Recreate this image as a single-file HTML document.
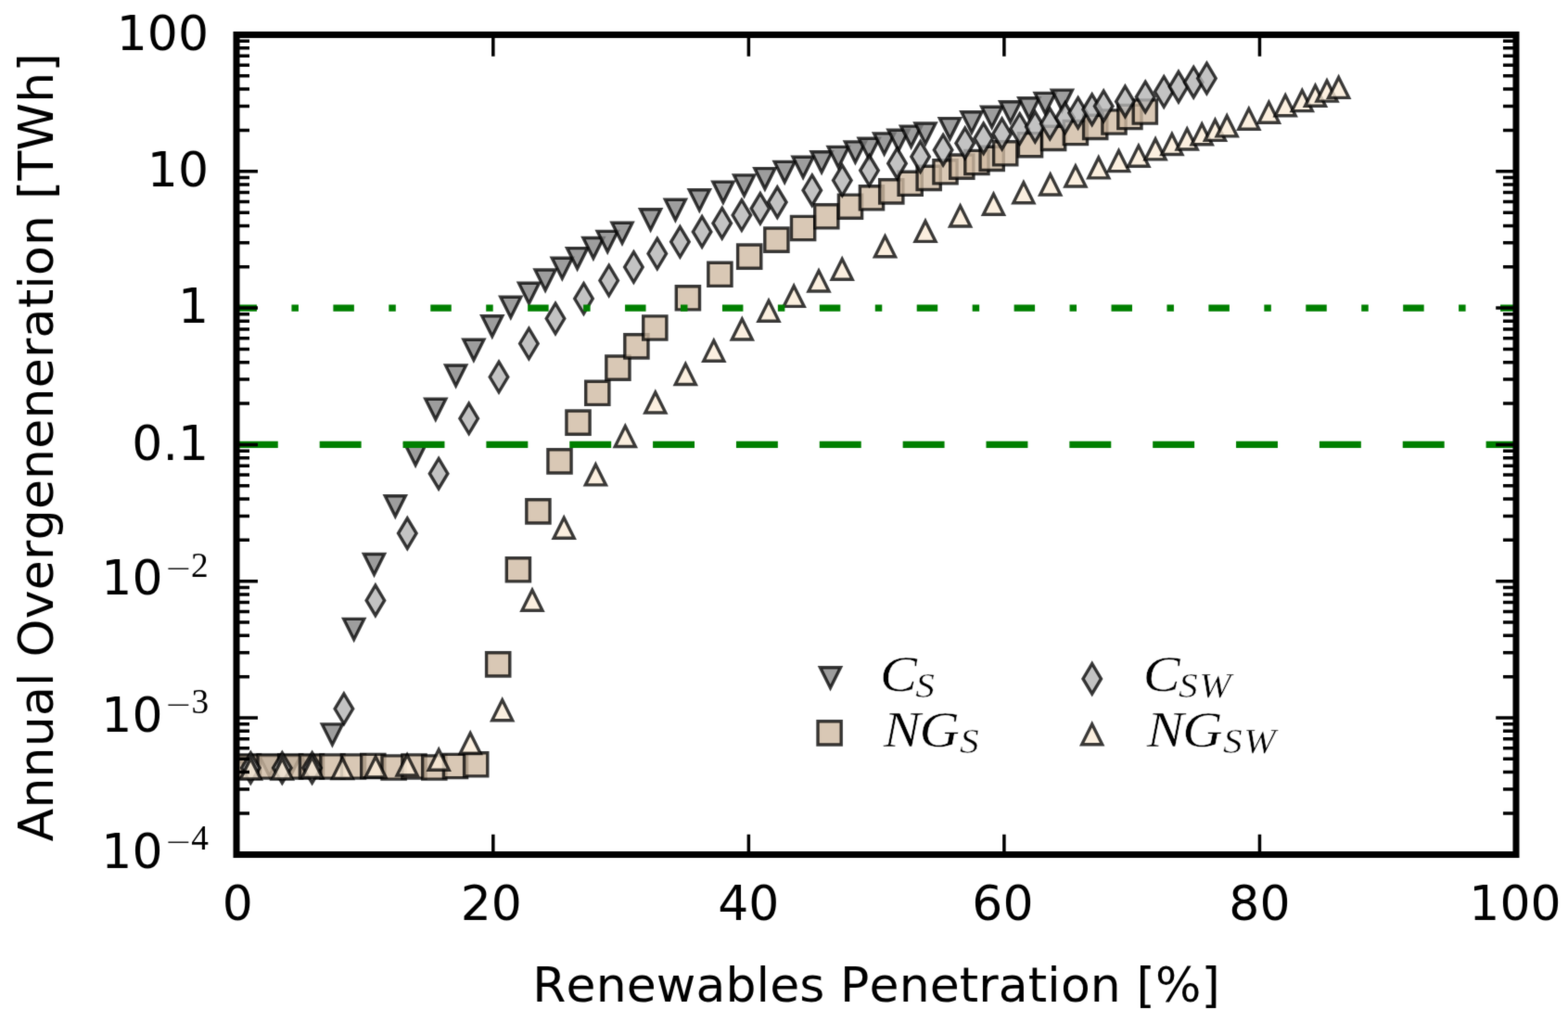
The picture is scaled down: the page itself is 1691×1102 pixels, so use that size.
<!DOCTYPE html>
<html><head><meta charset="utf-8"><title>Annual Overgeneneration vs Renewables Penetration</title>
<style>html,body{margin:0;padding:0;background:#fff;width:1691px;height:1102px;overflow:hidden}svg{display:block}</style>
</head><body><svg width="1691" height="1102" viewBox="0 0 1691 1102"><defs><filter id="soft" x="0" y="0" width="1691" height="1102" filterUnits="userSpaceOnUse" color-interpolation-filters="sRGB"><feConvolveMatrix order="3" kernelMatrix="1 6 1 6 36 6 1 6 1" divisor="64" edgeMode="duplicate"/></filter></defs><rect width="1691" height="1102" fill="#fff"/><g filter="url(#soft)"><rect width="1691" height="1102" fill="#fff"/><g class="m" fill-opacity="0.8" stroke="#000" stroke-opacity="0.77" stroke-width="3.4" stroke-linejoin="miter"><path d="M257 815H279L268 837Z" fill="#858585"/><path d="M279.6 815H301.6L290.6 837Z" fill="#858585"/><path d="M302.2 815H324.2L313.2 837Z" fill="#858585"/><path d="M325 815H347L336 837Z" fill="#858585"/><path d="M347.4 780.9H369.4L358.4 802.9Z" fill="#858585"/><path d="M370.7 667.4H392.7L381.7 689.4Z" fill="#858585"/><path d="M392.5 597.5H414.5L403.5 619.5Z" fill="#858585"/><path d="M415.3 534.7H437.3L426.3 556.7Z" fill="#858585"/><path d="M437.1 479.4H459.1L448.1 501.4Z" fill="#858585"/><path d="M458.8 430.3H480.8L469.8 452.3Z" fill="#858585"/><path d="M480.6 394H502.6L491.6 416Z" fill="#858585"/><path d="M499.9 366.2H521.9L510.9 388.2Z" fill="#858585"/><path d="M519.8 340.7H541.8L530.8 362.7Z" fill="#858585"/><path d="M539.8 320.3H561.8L550.8 342.3Z" fill="#858585"/><path d="M559.5 305.2H581.5L570.5 327.2Z" fill="#858585"/><path d="M577.1 291H599.1L588.1 313Z" fill="#858585"/><path d="M595.3 278.3H617.3L606.3 300.3Z" fill="#858585"/><path d="M611.6 267.6H633.6L622.6 289.6Z" fill="#858585"/><path d="M628.9 256.5H650.9L639.9 278.5Z" fill="#858585"/><path d="M644.2 249.4H666.2L655.2 271.4Z" fill="#858585"/><path d="M660 240.3H682L671 262.3Z" fill="#858585"/><path d="M690.6 225.7H712.6L701.6 247.7Z" fill="#858585"/><path d="M717.4 215.3H739.4L728.4 237.3Z" fill="#858585"/><path d="M743.3 204.7H765.3L754.3 226.7Z" fill="#858585"/><path d="M768.9 196.1H790.9L779.9 218.1Z" fill="#858585"/><path d="M791.6 188.9H813.6L802.6 210.9Z" fill="#858585"/><path d="M813.9 181.6H835.9L824.9 203.6Z" fill="#858585"/><path d="M835.2 174.4H857.2L846.2 196.4Z" fill="#858585"/><path d="M855.1 169.3H877.1L866.1 191.3Z" fill="#858585"/><path d="M875.1 163.8H897.1L886.1 185.8Z" fill="#858585"/><path d="M893.2 158.4H915.2L904.2 180.4Z" fill="#858585"/><path d="M911.4 152.9H933.4L922.4 174.9Z" fill="#858585"/><path d="M926.2 149.3H948.2L937.2 171.3Z" fill="#858585"/><path d="M942.6 143.9H964.6L953.6 165.9Z" fill="#858585"/><path d="M958 140.3H980L969 162.3Z" fill="#858585"/><path d="M971.6 136.1H993.6L982.6 158.1Z" fill="#858585"/><path d="M987 133H1009L998 155Z" fill="#858585"/><path d="M1013.4 127.6H1035.4L1024.4 149.6Z" fill="#858585"/><path d="M1036.9 120.7H1058.9L1047.9 142.7Z" fill="#858585"/><path d="M1058.7 115.2H1080.7L1069.7 137.2Z" fill="#858585"/><path d="M1078.7 109.8H1100.7L1089.7 131.8Z" fill="#858585"/><path d="M1098.8 105.8H1120.8L1109.8 127.8Z" fill="#858585"/><path d="M1116.2 100.4H1138.2L1127.2 122.4Z" fill="#858585"/><path d="M1134.4 97.1H1156.4L1145.4 119.1Z" fill="#858585"/></g><g class="m" fill-opacity="0.8" stroke="#000" stroke-opacity="0.77" stroke-width="3.4" stroke-linejoin="miter"><path d="M255.4 813.9h25.2v25.2h-25.2Z" fill="#cfbaa3"/><path d="M278 813.9h25.2v25.2h-25.2Z" fill="#cfbaa3"/><path d="M300.6 813.9h25.2v25.2h-25.2Z" fill="#cfbaa3"/><path d="M323.4 813.9h25.2v25.2h-25.2Z" fill="#cfbaa3"/><path d="M345.8 813.9h25.2v25.2h-25.2Z" fill="#cfbaa3"/><path d="M368.4 813.9h25.2v25.2h-25.2Z" fill="#cfbaa3"/><path d="M389.7 813.4h25.2v25.2h-25.2Z" fill="#cfbaa3"/><path d="M412 814.9h25.2v25.2h-25.2Z" fill="#cfbaa3"/><path d="M433.9 813.9h25.2v25.2h-25.2Z" fill="#cfbaa3"/><path d="M455.7 814.9h25.2v25.2h-25.2Z" fill="#cfbaa3"/><path d="M478.4 813.4h25.2v25.2h-25.2Z" fill="#cfbaa3"/><path d="M500.6 811.7h25.2v25.2h-25.2Z" fill="#cfbaa3"/><path d="M524.6 703.8h25.2v25.2h-25.2Z" fill="#cfbaa3"/><path d="M546.3 601.7h25.2v25.2h-25.2Z" fill="#cfbaa3"/><path d="M567.8 538.8h25.2v25.2h-25.2Z" fill="#cfbaa3"/><path d="M590.9 484.8h25.2v25.2h-25.2Z" fill="#cfbaa3"/><path d="M610.9 443h25.2v25.2h-25.2Z" fill="#cfbaa3"/><path d="M631.7 411.2h25.2v25.2h-25.2Z" fill="#cfbaa3"/><path d="M653.8 384h25.2v25.2h-25.2Z" fill="#cfbaa3"/><path d="M673.8 360.8h25.2v25.2h-25.2Z" fill="#cfbaa3"/><path d="M693.7 340.9h25.2v25.2h-25.2Z" fill="#cfbaa3"/><path d="M729.3 308.7h25.2v25.2h-25.2Z" fill="#cfbaa3"/><path d="M763.8 283.2h25.2v25.2h-25.2Z" fill="#cfbaa3"/><path d="M795.6 264h25.2v25.2h-25.2Z" fill="#cfbaa3"/><path d="M824.8 246h25.2v25.2h-25.2Z" fill="#cfbaa3"/><path d="M853.5 233.4h25.2v25.2h-25.2Z" fill="#cfbaa3"/><path d="M878.7 220.7h25.2v25.2h-25.2Z" fill="#cfbaa3"/><path d="M904.4 210.1h25.2v25.2h-25.2Z" fill="#cfbaa3"/><path d="M927.4 200.7h25.2v25.2h-25.2Z" fill="#cfbaa3"/><path d="M948.7 193.8h25.2v25.2h-25.2Z" fill="#cfbaa3"/><path d="M969.1 185.2h25.2v25.2h-25.2Z" fill="#cfbaa3"/><path d="M989.1 179.3h25.2v25.2h-25.2Z" fill="#cfbaa3"/><path d="M1006.9 172.7h25.2v25.2h-25.2Z" fill="#cfbaa3"/><path d="M1024.7 167h25.2v25.2h-25.2Z" fill="#cfbaa3"/><path d="M1040.8 162.4h25.2v25.2h-25.2Z" fill="#cfbaa3"/><path d="M1057.1 158.3h25.2v25.2h-25.2Z" fill="#cfbaa3"/><path d="M1071.6 152.7h25.2v25.2h-25.2Z" fill="#cfbaa3"/><path d="M1098.4 143.6h25.2v25.2h-25.2Z" fill="#cfbaa3"/><path d="M1123.5 136.3h25.2v25.2h-25.2Z" fill="#cfbaa3"/><path d="M1147.3 130.4h25.2v25.2h-25.2Z" fill="#cfbaa3"/><path d="M1168.6 124.3h25.2v25.2h-25.2Z" fill="#cfbaa3"/><path d="M1188.9 118.9h25.2v25.2h-25.2Z" fill="#cfbaa3"/><path d="M1205.8 113.4h25.2v25.2h-25.2Z" fill="#cfbaa3"/><path d="M1222.2 107.9h25.2v25.2h-25.2Z" fill="#cfbaa3"/></g><g class="m" fill-opacity="0.8" stroke="#000" stroke-opacity="0.77" stroke-width="3.4" stroke-linejoin="miter"><path d="M270.3 811.74L280.06 828L270.3 844.26L260.54 828Z" fill="#b4b4b4"/><path d="M304.3 811.74L314.06 828L304.3 844.26L294.54 828Z" fill="#b4b4b4"/><path d="M336.6 811.74L346.36 828L336.6 844.26L326.84 828Z" fill="#b4b4b4"/><path d="M370.9 748.04L380.66 764.3L370.9 780.56L361.14 764.3Z" fill="#b4b4b4"/><path d="M404.9 631.14L414.66 647.4L404.9 663.66L395.14 647.4Z" fill="#b4b4b4"/><path d="M439.3 558.84L449.06 575.1L439.3 591.36L429.54 575.1Z" fill="#b4b4b4"/><path d="M473.1 494.44L482.86 510.7L473.1 526.96L463.34 510.7Z" fill="#b4b4b4"/><path d="M505.7 435.04L515.46 451.3L505.7 467.56L495.94 451.3Z" fill="#b4b4b4"/><path d="M538 390.24L547.76 406.5L538 422.76L528.24 406.5Z" fill="#b4b4b4"/><path d="M570.4 354.24L580.16 370.5L570.4 386.76L560.64 370.5Z" fill="#b4b4b4"/><path d="M599 327.24L608.76 343.5L599 359.76L589.24 343.5Z" fill="#b4b4b4"/><path d="M629.5 305.74L639.26 322L629.5 338.26L619.74 322Z" fill="#b4b4b4"/><path d="M656.7 286.24L666.46 302.5L656.7 318.76L646.94 302.5Z" fill="#b4b4b4"/><path d="M683.4 271.74L693.16 288L683.4 304.26L673.64 288Z" fill="#b4b4b4"/><path d="M708.8 257.24L718.56 273.5L708.8 289.76L699.04 273.5Z" fill="#b4b4b4"/><path d="M733.4 244.54L743.16 260.8L733.4 277.06L723.64 260.8Z" fill="#b4b4b4"/><path d="M757.1 233.64L766.86 249.9L757.1 266.16L747.34 249.9Z" fill="#b4b4b4"/><path d="M778.7 224.44L788.46 240.7L778.7 256.96L768.94 240.7Z" fill="#b4b4b4"/><path d="M799.9 215.74L809.66 232L799.9 248.26L790.14 232Z" fill="#b4b4b4"/><path d="M819.9 208.54L829.66 224.8L819.9 241.06L810.14 224.8Z" fill="#b4b4b4"/><path d="M838.3 201.84L848.06 218.1L838.3 234.36L828.54 218.1Z" fill="#b4b4b4"/><path d="M875.8 188.94L885.56 205.2L875.8 221.46L866.04 205.2Z" fill="#b4b4b4"/><path d="M908.3 178.24L918.06 194.5L908.3 210.76L898.54 194.5Z" fill="#b4b4b4"/><path d="M937.5 167.54L947.26 183.8L937.5 200.06L927.74 183.8Z" fill="#b4b4b4"/><path d="M967.5 159.94L977.26 176.2L967.5 192.46L957.74 176.2Z" fill="#b4b4b4"/><path d="M992.6 152.64L1002.36 168.9L992.6 185.16L982.84 168.9Z" fill="#b4b4b4"/><path d="M1017.1 145.44L1026.86 161.7L1017.1 177.96L1007.34 161.7Z" fill="#b4b4b4"/><path d="M1040.7 138.14L1050.46 154.4L1040.7 170.66L1030.94 154.4Z" fill="#b4b4b4"/><path d="M1060.7 133.04L1070.46 149.3L1060.7 165.56L1050.94 149.3Z" fill="#b4b4b4"/><path d="M1080.6 128.14L1090.36 144.4L1080.6 160.66L1070.84 144.4Z" fill="#b4b4b4"/><path d="M1099.7 122.74L1109.46 139L1099.7 155.26L1089.94 139Z" fill="#b4b4b4"/><path d="M1116.3 120.54L1126.06 136.8L1116.3 153.06L1106.54 136.8Z" fill="#b4b4b4"/><path d="M1132.3 117.24L1142.06 133.5L1132.3 149.76L1122.54 133.5Z" fill="#b4b4b4"/><path d="M1148.6 110.84L1158.36 127.1L1148.6 143.36L1138.84 127.1Z" fill="#b4b4b4"/><path d="M1162.6 105.44L1172.36 121.7L1162.6 137.96L1152.84 121.7Z" fill="#b4b4b4"/><path d="M1177.7 101.84L1187.46 118.1L1177.7 134.36L1167.94 118.1Z" fill="#b4b4b4"/><path d="M1190.2 98.14L1199.96 114.4L1190.2 130.66L1180.44 114.4Z" fill="#b4b4b4"/><path d="M1213.4 93.14L1223.16 109.4L1213.4 125.66L1203.64 109.4Z" fill="#b4b4b4"/><path d="M1235.2 88.24L1244.96 104.5L1235.2 120.76L1225.44 104.5Z" fill="#b4b4b4"/><path d="M1255.2 82.74L1264.96 99L1255.2 115.26L1245.44 99Z" fill="#b4b4b4"/><path d="M1271 77.34L1280.76 93.6L1271 109.86L1261.24 93.6Z" fill="#b4b4b4"/><path d="M1287.2 72.44L1296.96 88.7L1287.2 104.96L1277.44 88.7Z" fill="#b4b4b4"/><path d="M1301.4 68.24L1311.16 84.5L1301.4 100.76L1291.64 84.5Z" fill="#b4b4b4"/></g><g class="m" fill-opacity="0.8" stroke="#000" stroke-opacity="0.77" stroke-width="3.4" stroke-linejoin="miter"><path d="M270.3 818L281.3 840H259.3Z" fill="#faebd7"/><path d="M304.3 818L315.3 840H293.3Z" fill="#faebd7"/><path d="M336.6 816.5L347.6 838.5H325.6Z" fill="#faebd7"/><path d="M369.3 817.5L380.3 839.5H358.3Z" fill="#faebd7"/><path d="M405.1 816L416.1 838H394.1Z" fill="#faebd7"/><path d="M439.1 814L450.1 836H428.1Z" fill="#faebd7"/><path d="M473.2 808.3L484.2 830.3H462.2Z" fill="#faebd7"/><path d="M507.2 790.5L518.2 812.5H496.2Z" fill="#faebd7"/><path d="M541.7 754.7L552.7 776.7H530.7Z" fill="#faebd7"/><path d="M574 636.2L585 658.2H563Z" fill="#faebd7"/><path d="M608.2 558.2L619.2 580.2H597.2Z" fill="#faebd7"/><path d="M642.4 500.9L653.4 522.9H631.4Z" fill="#faebd7"/><path d="M674.3 459.5L685.3 481.5H663.3Z" fill="#faebd7"/><path d="M706.8 423L717.8 445H695.8Z" fill="#faebd7"/><path d="M739.3 392.5L750.3 414.5H728.3Z" fill="#faebd7"/><path d="M769.8 367.2L780.8 389.2H758.8Z" fill="#faebd7"/><path d="M800.3 344L811.3 366H789.3Z" fill="#faebd7"/><path d="M829 324.2L840 346.2H818Z" fill="#faebd7"/><path d="M856.2 308.4L867.2 330.4H845.2Z" fill="#faebd7"/><path d="M883 292L894 314H872Z" fill="#faebd7"/><path d="M908.2 279.3L919.2 301.3H897.2Z" fill="#faebd7"/><path d="M954.5 254.7L965.5 276.7H943.5Z" fill="#faebd7"/><path d="M998 238.4L1009 260.4H987Z" fill="#faebd7"/><path d="M1035.6 222L1046.6 244H1024.6Z" fill="#faebd7"/><path d="M1071.5 209.3L1082.5 231.3H1060.5Z" fill="#faebd7"/><path d="M1103.9 196.8L1114.9 218.8H1092.9Z" fill="#faebd7"/><path d="M1132.7 188L1143.7 210H1121.7Z" fill="#faebd7"/><path d="M1159.9 179L1170.9 201H1148.9Z" fill="#faebd7"/><path d="M1184.8 169.9L1195.8 191.9H1173.8Z" fill="#faebd7"/><path d="M1206.5 162.6L1217.5 184.6H1195.5Z" fill="#faebd7"/><path d="M1227.9 157.2L1238.9 179.2H1216.9Z" fill="#faebd7"/><path d="M1246.1 149.9L1257.1 171.9H1235.1Z" fill="#faebd7"/><path d="M1263.9 144.5L1274.9 166.5H1252.9Z" fill="#faebd7"/><path d="M1280.2 139L1291.2 161H1269.2Z" fill="#faebd7"/><path d="M1296.2 133.7L1307.2 155.7H1285.2Z" fill="#faebd7"/><path d="M1310.5 129.4L1321.5 151.4H1299.5Z" fill="#faebd7"/><path d="M1323.2 124.9L1334.2 146.9H1312.2Z" fill="#faebd7"/><path d="M1346.8 117.2L1357.8 139.2H1335.8Z" fill="#faebd7"/><path d="M1368.4 110.3L1379.4 132.3H1357.4Z" fill="#faebd7"/><path d="M1386.2 102.7L1397.2 124.7H1375.2Z" fill="#faebd7"/><path d="M1404.3 97.6L1415.3 119.6H1393.3Z" fill="#faebd7"/><path d="M1418.5 92.2L1429.5 114.2H1407.5Z" fill="#faebd7"/><path d="M1431 87.1L1442 109.1H1420Z" fill="#faebd7"/><path d="M1443.7 83.4L1454.7 105.4H1432.7Z" fill="#faebd7"/></g><line x1="254.5" y1="332.1" x2="1635" y2="332.1" stroke="#008000" stroke-width="7.2" stroke-dasharray="22.48 37.46 7.49 37.46"/><line x1="254.85" y1="479.4" x2="1635" y2="479.4" stroke="#008000" stroke-width="7.2" stroke-dasharray="44.92 44.93"/><path d="M255 921.3h23M1635 921.3h-21.8M255 876.96h14M1635 876.96h-14M255 851.02h14M1635 851.02h-14M255 832.62h14M1635 832.62h-14M255 818.34h14M1635 818.34h-14M255 806.68h14M1635 806.68h-14M255 796.82h14M1635 796.82h-14M255 788.27h14M1635 788.27h-14M255 780.74h14M1635 780.74h-14M255 774h23M1635 774h-21.8M255 729.66h14M1635 729.66h-14M255 703.72h14M1635 703.72h-14M255 685.32h14M1635 685.32h-14M255 671.04h14M1635 671.04h-14M255 659.38h14M1635 659.38h-14M255 649.52h14M1635 649.52h-14M255 640.97h14M1635 640.97h-14M255 633.44h14M1635 633.44h-14M255 626.7h23M1635 626.7h-21.8M255 582.36h14M1635 582.36h-14M255 556.42h14M1635 556.42h-14M255 538.02h14M1635 538.02h-14M255 523.74h14M1635 523.74h-14M255 512.08h14M1635 512.08h-14M255 502.22h14M1635 502.22h-14M255 493.67h14M1635 493.67h-14M255 486.14h14M1635 486.14h-14M255 479.4h23M1635 479.4h-21.8M255 435.06h14M1635 435.06h-14M255 409.12h14M1635 409.12h-14M255 390.72h14M1635 390.72h-14M255 376.44h14M1635 376.44h-14M255 364.78h14M1635 364.78h-14M255 354.92h14M1635 354.92h-14M255 346.37h14M1635 346.37h-14M255 338.84h14M1635 338.84h-14M255 332.1h23M1635 332.1h-21.8M255 287.76h14M1635 287.76h-14M255 261.82h14M1635 261.82h-14M255 243.42h14M1635 243.42h-14M255 229.14h14M1635 229.14h-14M255 217.48h14M1635 217.48h-14M255 207.62h14M1635 207.62h-14M255 199.07h14M1635 199.07h-14M255 191.54h14M1635 191.54h-14M255 184.8h23M1635 184.8h-21.8M255 140.46h14M1635 140.46h-14M255 114.52h14M1635 114.52h-14M255 96.12h14M1635 96.12h-14M255 81.84h14M1635 81.84h-14M255 70.18h14M1635 70.18h-14M255 60.32h14M1635 60.32h-14M255 51.77h14M1635 51.77h-14M255 44.24h14M1635 44.24h-14M255 37.5h23M1635 37.5h-21.8M256.3 921.5v-21.8M256.3 37.5v23.3M531.84 921.5v-21.8M531.84 37.5v23.3M807.38 921.5v-21.8M807.38 37.5v23.3M1082.92 921.5v-21.8M1082.92 37.5v23.3M1358.46 921.5v-21.8M1358.46 37.5v23.3M1634 921.5v-21.8M1634 37.5v23.3" stroke="#000" stroke-width="3.5" fill="none"/><rect x="255" y="37.5" width="1380" height="884" fill="none" stroke="#000" stroke-width="7.0" stroke-linejoin="miter"/><g style="font-family:'DejaVu Sans','Liberation Sans',sans-serif;font-size:52px;font-kerning:none" fill="#000"><text x="225" y="53.7" text-anchor="end">100</text><text x="225" y="201" text-anchor="end">10</text><text x="225" y="348.3" text-anchor="end">1</text><text x="225" y="495.6" text-anchor="end">0.1</text><text x="109.3" y="641.4">10</text><text y="621.6" style="font-family:'Liberation Serif','DejaVu Serif',serif;font-size:37.3px"><tspan x="177.4" y="624.07" style="font-family:'DejaVu Sans',sans-serif;font-weight:200;font-size:35px">&#8722;</tspan><tspan x="206.1" y="621.6">2</tspan></text><text x="109.3" y="788.7">10</text><text y="768.9" style="font-family:'Liberation Serif','DejaVu Serif',serif;font-size:37.3px"><tspan x="177.4" y="771.37" style="font-family:'DejaVu Sans',sans-serif;font-weight:200;font-size:35px">&#8722;</tspan><tspan x="206.5" y="768.9">3</tspan></text><text x="109.3" y="936">10</text><text y="916.2" style="font-family:'Liberation Serif','DejaVu Serif',serif;font-size:37.3px"><tspan x="177.4" y="918.67" style="font-family:'DejaVu Sans',sans-serif;font-weight:200;font-size:35px">&#8722;</tspan><tspan x="206.2" y="916.2">4</tspan></text><text x="256.3" y="991.7" text-anchor="middle">0</text><text x="529.84" y="991.7" text-anchor="middle">20</text><text x="807.38" y="991.7" text-anchor="middle">40</text><text x="1081.42" y="991.7" text-anchor="middle">60</text><text x="1358.46" y="991.7" text-anchor="middle">80</text><text x="1634" y="991.7" text-anchor="middle">100</text><text x="945.1" y="1080" text-anchor="middle" style="letter-spacing:0.116px">Renewables Penetration [%]</text><text transform="translate(56.6 482.2) rotate(-90)" text-anchor="middle" style="letter-spacing:0.243px">Annual Overgeneneration [TWh]</text></g><g class="m" fill-opacity="0.8" stroke="#000" stroke-opacity="0.77" stroke-width="3.4" stroke-linejoin="miter"><path d="M884.5 719.7H906.5L895.5 741.7Z" fill="#858585"/></g><g class="m" fill-opacity="0.8" stroke="#000" stroke-opacity="0.77" stroke-width="3.4" stroke-linejoin="miter"><path d="M882 777.8h25.2v25.2h-25.2Z" fill="#cfbaa3"/></g><g class="m" fill-opacity="0.8" stroke="#000" stroke-opacity="0.77" stroke-width="3.4" stroke-linejoin="miter"><path d="M1177.75 715.64L1187.51 731.9L1177.75 748.16L1167.99 731.9Z" fill="#b4b4b4"/></g><g class="m" fill-opacity="0.8" stroke="#000" stroke-opacity="0.77" stroke-width="3.4" stroke-linejoin="miter"><path d="M1177.7 780.8L1188.7 802.8H1166.7Z" fill="#faebd7"/></g><text transform="scale(1.09 1)" style="font-family:'Liberation Serif','DejaVu Serif',serif;font-style:italic" stroke="#fff" stroke-width="0.5"><tspan x="870.61" y="744.8" style="font-size:55px">C</tspan><tspan x="905.7" y="752.2" style="font-size:38px">S</tspan></text><text transform="scale(1.09 1)" style="font-family:'Liberation Serif','DejaVu Serif',serif;font-style:italic" stroke="#fff" stroke-width="0.5"><tspan x="874.07 909.53" y="804.8" style="font-size:55px">NG</tspan><tspan x="949.65" y="812.2" style="font-size:38px">S</tspan></text><text transform="scale(1.09 1)" style="font-family:'Liberation Serif','DejaVu Serif',serif;font-style:italic" stroke="#fff" stroke-width="0.5"><tspan x="1131.07" y="744.8" style="font-size:55px">C</tspan><tspan x="1166.16 1186.58" y="752.2" style="font-size:38px">SW</tspan></text><text transform="scale(1.09 1)" style="font-family:'Liberation Serif','DejaVu Serif',serif;font-style:italic" stroke="#fff" stroke-width="0.5"><tspan x="1134.53 1169.99" y="804.8" style="font-size:55px">NG</tspan><tspan x="1210.11 1230.52" y="812.2" style="font-size:38px">SW</tspan></text></g></svg></body></html>
